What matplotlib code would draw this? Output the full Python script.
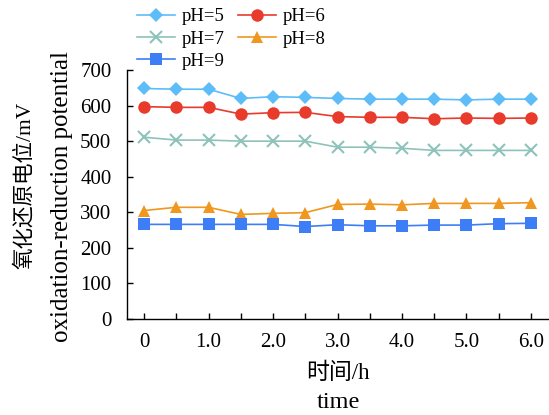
import matplotlib
matplotlib.use("Agg")
import matplotlib.pyplot as plt

time_h = [0, 0.5, 1.0, 1.5, 2.0, 2.5, 3.0, 3.5, 4.0, 4.5, 5.0, 5.5, 6.0]
ph5 = [648, 646, 646, 620, 625, 623, 620, 618, 618, 618, 616, 618, 618]
ph6 = [597, 595, 595, 576, 580, 581, 569, 567, 567, 563, 565, 564, 565]
ph7 = [511, 503, 503, 500, 500, 500, 483, 483, 480, 474, 474, 474, 474]
ph8 = [305, 314, 314, 294, 297, 299, 322, 323, 321, 325, 325, 325, 327]
ph9 = [266, 266, 266, 266, 266, 260, 265, 262, 262, 264, 264, 268, 269]

labels = ["pH=5", "pH=6", "pH=7", "pH=8", "pH=9"]
x_ticks = [0, 0.5, 1.0, 1.5, 2.0, 2.5, 3.0, 3.5, 4.0, 4.5, 5.0, 5.5, 6.0]
x_ticklabels = ["0", "", "1.0", "", "2.0", "", "3.0", "", "4.0", "", "5.0", "", "6.0"]
y_ticks = [0, 100, 200, 300, 400, 500, 600, 700]

serif = ["Liberation Serif", "Noto Sans CJK SC", "DejaVu Sans"]
plt.rcParams["font.family"] = serif

W, H = 549, 415
fig = plt.figure(figsize=(W / 100, H / 100), dpi=100)
ax = fig.add_axes([126.7 / W, 96 / H, 1 - 126.7 / W, (319 - 70) / H])

series = [ph5, ph6, ph7, ph8, ph9]
colors = ["#5cbdf8", "#e83b2c", "#8ec2ba", "#f0971f", "#3d7ef7"]
markers = ["D", "o", "x", "^", "s"]
msizes = [7, 9, 8, 9, 8]
handles = []
for s, c, m, ms, lab in zip(series, colors, markers, msizes, labels):
    kw = dict(markeredgewidth=1.5) if m == "x" else dict(markeredgewidth=0)
    h, = ax.plot(time_h, s, color=c, marker=m, markersize=ms, linewidth=1.2,
                 label=lab, **kw)
    handles.append(h)

ax.set_xlim(-0.27, 6.28)
ax.set_ylim(0, 700)
ax.set_xticks(x_ticks)
ax.set_xticklabels(x_ticklabels)
ax.set_yticks(y_ticks)
ax.tick_params(direction="in", length=4, width=1, labelsize=15)
ax.tick_params(axis="x", pad=10)
ax.tick_params(axis="y", pad=11)
ax.spines["top"].set_visible(False)
ax.spines["right"].set_visible(False)
for sp in ("left", "bottom"):
    ax.spines[sp].set_linewidth(1.0)

# x-axis title (two lines)
fig.text(338 / W, 1 - 373 / H, "时间/h", fontsize=16.5, ha="center", va="center")
fig.text(338 / W, 1 - 402 / H, "time", fontsize=17.5, ha="center", va="center")
# y-axis title (two lines)
fig.text(25 / W, 1 - 185 / H, "氧化还原电位/mV", fontsize=15.5, rotation=90,
         ha="center", va="center")
fig.text(73 / W, 1 - 197 / H, "oxidation-reduction potential", fontsize=18,
         rotation=90, ha="right", va="center")

# row-major order in a 2-column legend
order = [0, 2, 4, 1, 3]
fig.legend([handles[i] for i in order], [labels[i] for i in order],
           loc="upper left", bbox_to_anchor=(137 / W, 1 - 8 / H),
           ncol=2, frameon=False, fontsize=13.5, handlelength=2.0,
           handletextpad=0.4, columnspacing=0.7, labelspacing=0.28,
           borderpad=0, borderaxespad=0)

fig.savefig("out.png", dpi=100)
